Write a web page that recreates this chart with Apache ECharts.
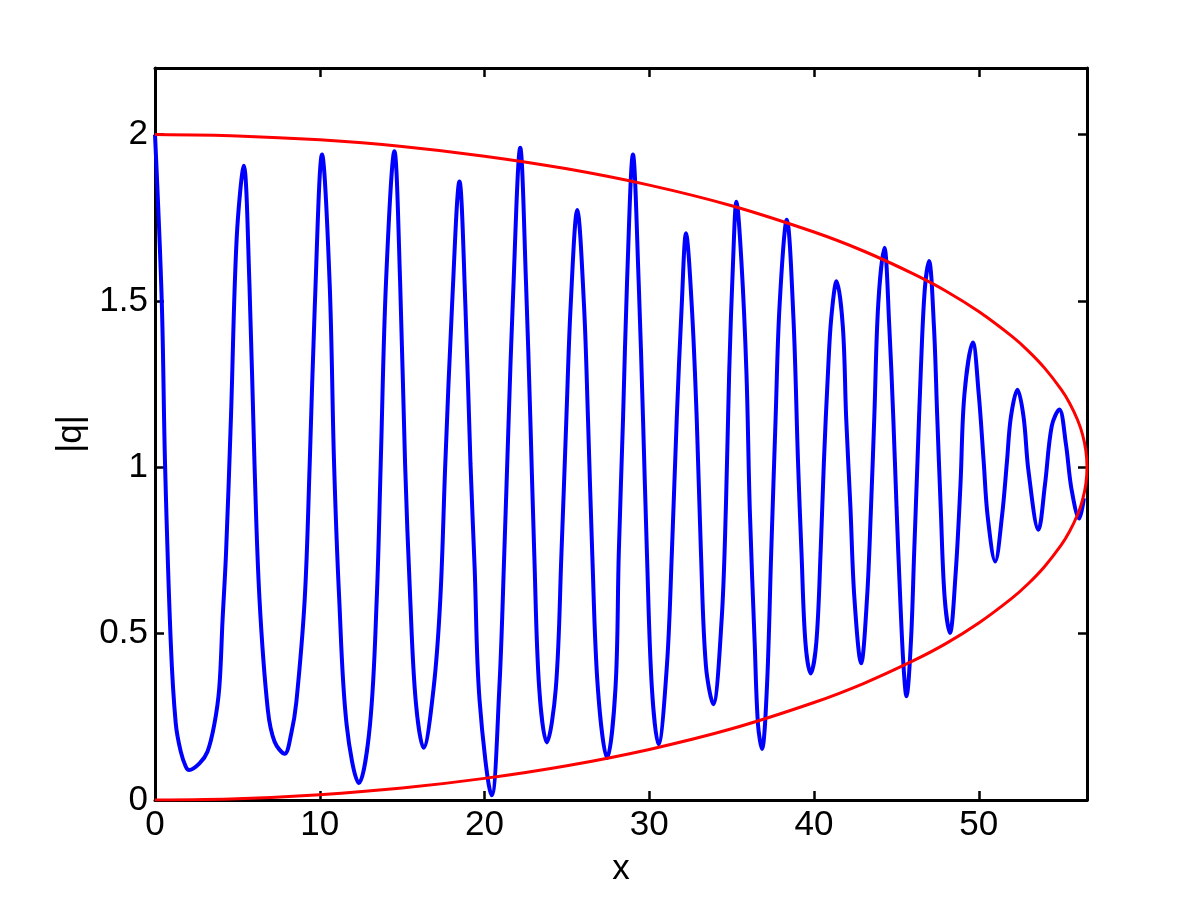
<!DOCTYPE html>
<html>
<head>
<meta charset="utf-8">
<script src="https://cdn.jsdelivr.net/npm/echarts@6/dist/echarts.min.js"></script>
<style>
  html, body { margin: 0; padding: 0; background: #fff; }
  #chart { width: 1200px; height: 900px; }
</style>
</head>
<body>
<div id="chart"></div>
<script>
// |q| oscillation
const blueX = [0, 0.41, 0.61, 0.96, 1.26, 1.56, 1.87, 2.07, 2.7, 3.19, 3.6, 3.9, 4.1, 4.31, 4.61, 4.96, 5.39, 5.73, 6.04, 6.34, 6.85,
  7.26, 7.87, 8.27, 8.58, 9.09, 9.39, 9.7, 10.14, 10.6, 10.87, 11.18, 11.63, 12.38, 13.05, 13.46, 13.7, 14.02, 14.53, 14.88, 15.18, 15.49,
  15.83, 16.3, 16.91, 17.32, 17.62, 18.03, 18.48, 18.84, 19.15, 19.4, 19.7, 20.44, 20.9, 21.2, 21.47, 21.71, 22.17,
  22.52, 22.78, 23.02, 23.32, 23.78, 24.33, 24.67, 24.97, 25.23, 25.63, 26.04, 26.28, 26.54, 26.88, 27.44, 27.95,
  28.15, 28.41, 28.65, 29.01, 29.36, 29.62, 29.86, 30.16, 30.56, 31.07, 31.37, 31.67, 31.97, 32.23, 32.58, 32.88,
  33.14, 33.44, 33.88, 34.39, 34.65, 34.85, 35.09, 35.29, 35.59, 35.9, 36.1, 36.4, 36.6, 36.84, 37.14, 37.4, 37.67,
  37.91, 38.35, 38.75, 39.03, 39.24, 39.48, 39.8, 40.14, 40.4, 40.6, 40.85, 41.05, 41.37, 41.75, 41.95, 42.21, 42.45,
  42.86, 43.22, 43.46, 43.66, 43.9, 44.27, 44.57, 44.81, 45.01, 45.23, 45.43, 45.61, 45.88, 46.08, 46.28, 46.48,
  46.72, 46.98, 47.28, 47.48, 47.69, 47.93, 48.25, 48.59, 48.89, 49.13, 49.64, 50.0, 50.3, 50.54, 51.0, 51.41, 51.71,
  51.95, 52.35, 52.72, 53.02, 53.62, 54.02, 54.43, 54.89, 55.29, 55.63, 56.1, 56.38];
const blueQ = [2.0, 1.5, 1.01, 0.47, 0.23, 0.146, 0.10, 0.09, 0.11, 0.146, 0.227, 0.336, 0.54, 0.74, 1.15, 1.69, 1.906, 1.554, 1.01, 0.606, 0.27,
  0.175, 0.139, 0.2, 0.295, 0.606, 1.01, 1.486, 1.94, 1.554, 1.01, 0.606, 0.227, 0.051, 0.227, 0.606, 1.01, 1.554, 1.95, 1.554, 1.01, 0.606,
  0.295, 0.157, 0.336, 0.606, 1.01, 1.486, 1.859, 1.486, 1.01, 0.7, 0.3, 0.014, 0.336, 0.74, 1.148, 1.486, 1.96,
  1.554, 1.148, 0.74, 0.336, 0.173, 0.336, 0.74, 1.148, 1.486, 1.773, 1.486, 1.148, 0.74, 0.336, 0.126, 0.336,
  0.74, 1.148, 1.554, 1.94, 1.554, 1.148, 0.74, 0.336, 0.167, 0.403, 0.74, 1.148, 1.486, 1.703, 1.486, 1.148,
  0.74, 0.403, 0.288, 0.539, 0.877, 1.283, 1.622, 1.798, 1.622, 1.283, 0.877, 0.471, 0.227, 0.153, 0.336, 0.74, 1.148,
  1.486, 1.744, 1.45, 1.016, 0.744, 0.473, 0.38, 0.473, 0.744, 1.016, 1.287, 1.45, 1.559, 1.423, 1.151, 0.88, 0.608,
  0.411, 0.608, 0.88, 1.151, 1.491, 1.66, 1.423, 1.151, 0.88, 0.608, 0.405, 0.312, 0.473, 0.744, 1.016, 1.287,
  1.532, 1.62, 1.423, 1.151, 0.88, 0.608, 0.502, 0.676, 0.948, 1.219, 1.375, 1.219, 1.016, 0.853, 0.717, 0.853, 1.016,
  1.151, 1.233, 1.151, 0.988, 0.812, 0.948, 1.124, 1.174, 1.07, 0.934, 0.846, 0.907];

// red envelope, upper and lower branches
const envX = [0, 5, 10, 15, 20, 25, 30, 35, 40, 43, 46, 48, 50, 52, 53, 54, 55, 55.5, 56, 56.3, 56.5, 56.57];
const envUpper = [2.0, 1.996, 1.984, 1.964, 1.935, 1.897, 1.848, 1.786, 1.707, 1.65, 1.582, 1.53, 1.468, 1.394, 1.35,
  1.298, 1.234, 1.194, 1.142, 1.098, 1.05, 1.0];
const envLower = [0, 0.004, 0.016, 0.036, 0.065, 0.103, 0.152, 0.214, 0.293, 0.35, 0.418, 0.47, 0.532, 0.606, 0.65,
  0.702, 0.766, 0.806, 0.858, 0.902, 0.95, 1.0];

const xTicks = [0, 10, 20, 30, 40, 50];
const xMax = 56.57;

const blueData = blueX.map((x, i) => [x, blueQ[i]]);
const envData = envX.map((x, i) => [x, envUpper[i]]);
for (let i = envX.length - 2; i >= 0; i--) {
  envData.push([envX[i], envLower[i]]);
}

const font = 'Liberation Sans, Arial, sans-serif';
const frameAxis = {
  type: 'value',
  axisLine: { show: true, onZero: false, lineStyle: { color: '#000', width: 3 } },
  axisTick: { show: true, inside: true, length: 9, lineStyle: { color: '#000', width: 2.5 } },
  splitLine: { show: false }
};

const chart = echarts.init(document.getElementById('chart'));
chart.setOption({
  animation: false,
  backgroundColor: '#fff',
  grid: { left: 155, right: 113, top: 68, bottom: 100, containLabel: false },
  xAxis: [
    Object.assign({}, frameAxis, {
      position: 'bottom', min: 0, max: xMax, interval: 10,
      name: 'x', nameLocation: 'middle', nameGap: 52,
      nameTextStyle: { fontSize: 35, fontFamily: font, color: '#000' },
      axisLabel: {
        fontSize: 35, fontFamily: font, color: '#000', margin: 8, showMaxLabel: false,
        formatter: v => (xTicks.indexOf(v) >= 0 ? String(v) : '')
      }
    }),
    Object.assign({}, frameAxis, {
      position: 'top', min: 0, max: xMax, interval: 10, axisLabel: { show: false }
    })
  ],
  yAxis: [
    Object.assign({}, frameAxis, {
      position: 'left', min: 0, max: 2.2, interval: 0.5,
      name: '|q|', nameLocation: 'middle', nameGap: 66, nameRotate: 90,
      nameTextStyle: { fontSize: 35, fontFamily: font, color: '#000' },
      axisLabel: {
        fontSize: 35, fontFamily: font, color: '#000', margin: 7, showMaxLabel: false,
        formatter: v => (v > 2.1 ? '' : String(v))
      }
    }),
    Object.assign({}, frameAxis, {
      position: 'right', min: 0, max: 2.2, interval: 0.5, axisLabel: { show: false }
    })
  ],
  series: [
    {
      type: 'line', data: blueData, showSymbol: false, smooth: 0.35, clip: true,
      lineStyle: { color: '#0000ff', width: 4 }
    },
    {
      type: 'line', data: envData, showSymbol: false, smooth: 0.3, clip: true,
      lineStyle: { color: '#ff0000', width: 3 }
    }
  ]
});
</script>
</body>
</html>
